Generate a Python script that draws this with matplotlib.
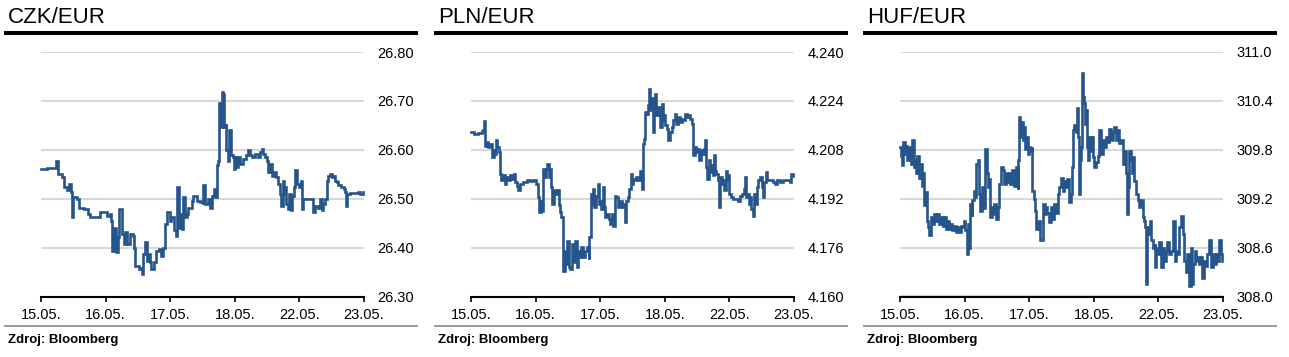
import matplotlib
matplotlib.use("Agg")
import matplotlib.pyplot as plt
from matplotlib.lines import Line2D

plt.rcParams['font.family'] = ['Liberation Sans', 'DejaVu Sans']

# ---------------- data (time in trading-day units from 15.05.) ----------------
X_LABELS = ["15.05.", "16.05.", "17.05.", "18.05.", "22.05.", "23.05."]
TITLES = ["CZK/EUR", "PLN/EUR", "HUF/EUR"]

CZK_T = [0.00, 0.10, 0.21, 0.23, 0.27, 0.32, 0.35, 0.40, 0.44, 0.46,
         0.48, 0.50, 0.55, 0.59, 0.66, 0.73, 0.76, 0.86, 0.91, 1.02,
         1.07, 1.09, 1.10, 1.13, 1.16, 1.19, 1.21, 1.23, 1.25, 1.28,
         1.30, 1.33, 1.38, 1.43, 1.44, 1.46, 1.51, 1.53, 1.56, 1.58,
         1.61, 1.64, 1.66, 1.69, 1.71, 1.75, 1.78, 1.82, 1.85, 1.89,
         1.92, 1.95, 1.99, 2.02, 2.06, 2.09, 2.11, 2.13, 2.16, 2.18,
         2.20, 2.23, 2.26, 2.28, 2.33, 2.36, 2.41, 2.46, 2.50, 2.51,
         2.54, 2.59, 2.62, 2.64, 2.68, 2.69, 2.72, 2.745, 2.755, 2.78,
         2.80, 2.82, 2.84, 2.86, 2.87, 2.90, 2.915, 2.94, 2.97, 2.99,
         3.00, 3.03, 3.055, 3.08, 3.13, 3.18, 3.21, 3.235, 3.26, 3.31,
         3.36, 3.39, 3.42, 3.44, 3.47, 3.50, 3.52, 3.545, 3.57, 3.60,
         3.64, 3.67, 3.70, 3.715, 3.74, 3.76, 3.78, 3.80, 3.83, 3.845,
         3.865, 3.885, 3.91, 3.93, 3.96, 4.00, 4.02, 4.04, 4.06, 4.11,
         4.19, 4.215, 4.24, 4.29, 4.32, 4.345, 4.37, 4.40, 4.42, 4.45,
         4.47, 4.50, 4.525, 4.55, 4.58, 4.60, 4.65, 4.69, 4.705, 4.716,
         4.73, 4.78, 4.86, 4.91, 4.94, 4.99]
CZK_V = [26.561, 26.563, 26.562, 26.577, 26.551, 26.544, 26.524, 26.517, 26.530, 26.513,
         26.462, 26.503, 26.500, 26.482, 26.479, 26.469, 26.462, 26.463, 26.472, 26.465,
         26.469, 26.455, 26.394, 26.441, 26.390, 26.421, 26.479, 26.479, 26.428, 26.407,
         26.431, 26.407, 26.428, 26.424, 26.400, 26.363, 26.356, 26.359, 26.347, 26.387,
         26.411, 26.373, 26.387, 26.370, 26.356, 26.370, 26.394, 26.397, 26.383, 26.400,
         26.448, 26.472, 26.455, 26.462, 26.435, 26.424, 26.524, 26.441, 26.469, 26.438,
         26.503, 26.462, 26.469, 26.482, 26.496, 26.506, 26.496, 26.493, 26.489, 26.527,
         26.489, 26.500, 26.482, 26.506, 26.520, 26.503, 26.568, 26.578, 26.695, 26.647,
         26.718, 26.715, 26.647, 26.653, 26.599, 26.578, 26.640, 26.589, 26.585, 26.561,
         26.585, 26.565, 26.585, 26.571, 26.582, 26.589, 26.599, 26.589, 26.585, 26.592,
         26.585, 26.595, 26.602, 26.592, 26.585, 26.578, 26.554, 26.571, 26.547, 26.554,
         26.544, 26.530, 26.510, 26.486, 26.537, 26.510, 26.524, 26.489, 26.479, 26.510,
         26.476, 26.506, 26.524, 26.558, 26.530, 26.524, 26.537, 26.479, 26.500, 26.500,
         26.500, 26.472, 26.486, 26.482, 26.500, 26.476, 26.489, 26.500, 26.537, 26.547,
         26.551, 26.544, 26.547, 26.537, 26.534, 26.527, 26.524, 26.520, 26.513, 26.486,
         26.510, 26.511, 26.511, 26.513, 26.510, 26.513]

PLN_T = [0.00, 0.04, 0.11, 0.17, 0.19, 0.20, 0.22, 0.24, 0.27, 0.29,
         0.32, 0.35, 0.36, 0.38, 0.41, 0.43, 0.45, 0.46, 0.49, 0.52,
         0.54, 0.57, 0.60, 0.64, 0.67, 0.68, 0.71, 0.73, 0.76, 0.81,
         0.86, 0.91, 0.96, 1.01, 1.03, 1.05, 1.08, 1.10, 1.12, 1.15,
         1.16, 1.18, 1.20, 1.22, 1.24, 1.26, 1.29, 1.32, 1.34, 1.36,
         1.38, 1.40, 1.42, 1.43, 1.45, 1.47, 1.49, 1.51, 1.53, 1.56,
         1.58, 1.61, 1.64, 1.66, 1.69, 1.71, 1.74, 1.76, 1.79, 1.82,
         1.83, 1.85, 1.87, 1.89, 1.91, 1.94, 1.96, 1.98, 2.00, 2.02,
         2.04, 2.06, 2.08, 2.10, 2.13, 2.15, 2.18, 2.20, 2.23, 2.25,
         2.28, 2.31, 2.33, 2.36, 2.38, 2.40, 2.43, 2.45, 2.47, 2.49,
         2.51, 2.54, 2.56, 2.59, 2.62, 2.64, 2.66, 2.68, 2.70, 2.72,
         2.74, 2.76, 2.77, 2.79, 2.81, 2.83, 2.85, 2.87, 2.90, 2.93,
         2.95, 2.97, 2.99, 3.01, 3.03, 3.05, 3.08, 3.11, 3.13, 3.16,
         3.18, 3.21, 3.24, 3.26, 3.29, 3.31, 3.34, 3.36, 3.39, 3.42,
         3.44, 3.47, 3.49, 3.52, 3.53, 3.56, 3.58, 3.60, 3.62, 3.64,
         3.66, 3.68, 3.70, 3.72, 3.74, 3.76, 3.78, 3.80, 3.82, 3.84,
         3.85, 3.88, 3.90, 3.92, 3.94, 3.96, 3.98, 4.00, 4.02, 4.06,
         4.11, 4.14, 4.16, 4.19, 4.22, 4.24, 4.26, 4.28, 4.30, 4.32,
         4.34, 4.36, 4.38, 4.40, 4.42, 4.45, 4.47, 4.50, 4.52, 4.54,
         4.56, 4.58, 4.63, 4.68, 4.71, 4.73, 4.78, 4.83, 4.89, 4.94,
         4.96, 4.99]
PLN_V = [4.2138, 4.2133, 4.2135, 4.2142, 4.2146, 4.2174, 4.2094, 4.2105, 4.2089, 4.2100,
         4.2056, 4.2084, 4.2067, 4.2111, 4.2089, 4.2073, 4.2002, 4.1980, 4.1996, 4.1969,
         4.1991, 4.1980, 4.1996, 4.1985, 4.2002, 4.1974, 4.1963, 4.1947, 4.1969, 4.1974,
         4.1980, 4.1977, 4.1982, 4.1969, 4.1925, 4.1876, 4.1914, 4.1881, 4.2018, 4.1991,
         4.2018, 4.2034, 4.1991, 4.2018, 4.1958, 4.1903, 4.1947, 4.1936, 4.1947, 4.1898,
         4.1876, 4.1859, 4.1794, 4.1684, 4.1750, 4.1706, 4.1783, 4.1695, 4.1690, 4.1772,
         4.1712, 4.1783, 4.1695, 4.1750, 4.1728, 4.1761, 4.1728, 4.1750, 4.1761, 4.1723,
         4.1794, 4.1936, 4.1903, 4.1952, 4.1892, 4.1930, 4.1969, 4.1903, 4.1914, 4.1887,
         4.1958, 4.1892, 4.1859, 4.1870, 4.1854, 4.1837, 4.1870, 4.1832, 4.1930, 4.1925,
         4.1892, 4.1914, 4.1892, 4.1903, 4.1843, 4.1914, 4.1925, 4.1952, 4.2002, 4.1969,
         4.1985, 4.1980, 4.1991, 4.1980, 4.2012, 4.1952, 4.2100, 4.2116, 4.2204, 4.2198,
         4.2226, 4.2280, 4.2209, 4.2248, 4.2138, 4.2242, 4.2264, 4.2193, 4.2220, 4.2155,
         4.2231, 4.2177, 4.2193, 4.2160, 4.2149, 4.2111, 4.2138, 4.2155, 4.2177, 4.2198,
         4.2166, 4.2187, 4.2171, 4.2182, 4.2177, 4.2198, 4.2187, 4.2193, 4.2182, 4.2166,
         4.2062, 4.2089, 4.2073, 4.2084, 4.2045, 4.2078, 4.2067, 4.2084, 4.2111, 4.2023,
         4.1985, 4.2045, 4.2007, 4.2029, 4.1996, 4.2062, 4.2012, 4.2002, 4.1980, 4.1892,
         4.1991, 4.1969, 4.1980, 4.1947, 4.2012, 4.1980, 4.1996, 4.1936, 4.1925, 4.1919,
         4.1919, 4.1914, 4.1930, 4.1936, 4.1952, 4.1991, 4.1925, 4.1936, 4.1903, 4.1925,
         4.1887, 4.1865, 4.1936, 4.1903, 4.1958, 4.1980, 4.1991, 4.1958, 4.1925, 4.1974,
         4.2007, 4.1980, 4.1980, 4.1974, 4.1969, 4.1980, 4.1974, 4.1980, 4.1980, 4.1974,
         4.2002, 4.1993]

HUF_T = [0.00, 0.01, 0.03, 0.05, 0.07, 0.09, 0.11, 0.14, 0.17, 0.19,
         0.21, 0.23, 0.25, 0.27, 0.29, 0.32, 0.34, 0.36, 0.37, 0.40,
         0.42, 0.44, 0.45, 0.48, 0.50, 0.53, 0.55, 0.58, 0.60, 0.63,
         0.66, 0.68, 0.71, 0.73, 0.76, 0.79, 0.81, 0.84, 0.86, 0.89,
         0.91, 0.94, 0.97, 0.99, 1.01, 1.03, 1.05, 1.07, 1.08, 1.11,
         1.12, 1.15, 1.16, 1.18, 1.20, 1.22, 1.24, 1.27, 1.29, 1.31,
         1.32, 1.34, 1.36, 1.38, 1.40, 1.42, 1.44, 1.46, 1.48, 1.51,
         1.53, 1.56, 1.59, 1.61, 1.64, 1.66, 1.69, 1.71, 1.74, 1.77,
         1.79, 1.82, 1.83, 1.84, 1.86, 1.88, 1.90, 1.92, 1.94, 1.96,
         1.98, 2.00, 2.02, 2.04, 2.05, 2.07, 2.09, 2.11, 2.13, 2.15,
         2.17, 2.19, 2.21, 2.22, 2.24, 2.26, 2.28, 2.31, 2.33, 2.36,
         2.39, 2.41, 2.44, 2.46, 2.49, 2.52, 2.54, 2.57, 2.59, 2.62,
         2.64, 2.66, 2.68, 2.70, 2.72, 2.74, 2.76, 2.77, 2.79, 2.80,
         2.82, 2.83, 2.85, 2.86, 2.88, 2.89, 2.91, 2.93, 2.95, 2.97,
         2.99, 3.01, 3.03, 3.06, 3.08, 3.11, 3.14, 3.16, 3.19, 3.21,
         3.24, 3.26, 3.29, 3.32, 3.34, 3.37, 3.39, 3.42, 3.45, 3.47,
         3.50, 3.51, 3.53, 3.55, 3.57, 3.59, 3.61, 3.63, 3.65, 3.68,
         3.70, 3.73, 3.76, 3.78, 3.80, 3.81, 3.83, 3.85, 3.87, 3.89,
         3.91, 3.94, 3.95, 3.97, 3.99, 4.01, 4.04, 4.07, 4.09, 4.12,
         4.14, 4.17, 4.19, 4.22, 4.25, 4.27, 4.30, 4.32, 4.35, 4.38,
         4.40, 4.43, 4.45, 4.48, 4.50, 4.52, 4.54, 4.56, 4.58, 4.61,
         4.63, 4.66, 4.68, 4.71, 4.74, 4.76, 4.79, 4.81, 4.84, 4.87,
         4.89, 4.92, 4.94, 4.97, 4.99]
HUF_V = [309.83, 309.73, 309.61, 309.90, 309.75, 309.85, 309.67, 309.83, 309.63, 309.92,
         309.59, 309.67, 309.51, 309.73, 309.46, 309.63, 309.36, 309.51, 309.12, 309.28,
         308.93, 308.85, 308.75, 308.97, 308.89, 309.01, 308.93, 309.01, 308.89, 308.97,
         308.87, 308.97, 308.83, 308.93, 308.83, 308.89, 308.81, 308.87, 308.79, 308.85,
         308.79, 308.87, 308.85, 308.93, 308.81, 308.52, 308.89, 308.60, 309.14, 308.99,
         309.18, 309.30, 309.22, 309.63, 309.67, 309.26, 309.05, 309.34, 309.08, 309.34,
         309.81, 309.51, 309.34, 309.44, 308.97, 309.10, 309.01, 309.14, 308.95, 309.10,
         309.38, 309.59, 309.55, 309.38, 309.51, 309.40, 309.51, 309.38, 309.55, 309.36,
         309.59, 309.32, 309.67, 310.20, 309.96, 310.14, 309.92, 310.08, 309.81, 309.96,
         309.75, 309.83, 309.79, 309.83, 309.30, 309.20, 309.05, 308.83, 308.93, 308.93,
         308.69, 308.69, 308.85, 309.14, 309.01, 309.10, 309.03, 308.91, 309.10, 308.95,
         309.14, 309.03, 309.26, 309.34, 309.46, 309.30, 309.42, 309.34, 309.44, 309.16,
         309.26, 309.59, 310.04, 310.10, 310.02, 310.31, 309.96, 309.26, 309.67, 309.83,
         310.74, 310.45, 310.37, 310.12, 310.29, 309.83, 309.67, 309.96, 309.79, 309.96,
         309.71, 309.59, 309.65, 309.73, 310.04, 309.75, 309.92, 309.83, 309.96, 309.90,
         310.06, 309.92, 310.02, 310.08, 309.92, 310.04, 309.88, 309.92, 309.63, 309.79,
         309.51, 309.01, 309.34, 309.79, 309.67, 309.51, 309.71, 309.42, 309.26, 309.18,
         309.10, 309.18, 308.97, 308.93, 308.85, 308.15, 308.85, 308.77, 308.93, 308.69,
         308.60, 308.64, 308.36, 308.60, 308.52, 308.67, 308.36, 308.60, 308.44, 308.56,
         308.67, 308.52, 308.56, 308.93, 308.44, 308.56, 308.52, 308.85, 308.99, 308.77,
         308.44, 308.30, 308.52, 308.13, 308.60, 308.15, 308.40, 308.56, 308.44, 308.48,
         308.40, 308.48, 308.23, 308.44, 308.38, 308.52, 308.69, 308.36, 308.52, 308.40,
         308.52, 308.44, 308.69, 308.52, 308.44]

CZK_TICKS = [26.30, 26.40, 26.50, 26.60, 26.70, 26.80]
PLN_TICKS = [4.160, 4.176, 4.192, 4.208, 4.224, 4.240]
HUF_TICKS = [308.0, 308.6, 309.2, 309.8, 310.4, 311.0]
TICK_FMT = ["{:.2f}", "{:.3f}", "{:.1f}"]

SERIES = [(CZK_T, CZK_V, CZK_TICKS), (PLN_T, PLN_V, PLN_TICKS), (HUF_T, HUF_V, HUF_TICKS)]

# ---------------- layout ----------------
W, H = 1289, 357
fig = plt.figure(figsize=(W / 100, H / 100), dpi=100)
fig.patch.set_facecolor("white")

LINE_COLOR = "#26548c"
OFFSETS = [0, 430, 859]

def fx(px):
    return px / W

def fy(py):
    return 1 - py / H

for (t, v, ticks), title, fmt, o in zip(SERIES, TITLES, TICK_FMT, OFFSETS):
    ax = fig.add_axes([fx(41 + o), fy(296.5), fx(323), (296.5 - 52) / H])
    ax.plot(t, v, color=LINE_COLOR, lw=1.9, drawstyle="steps-post",
            solid_joinstyle="miter", clip_on=False, zorder=3)
    ax.set_xlim(0, 5)
    ax.set_ylim(ticks[0], ticks[-1])
    ax.set_yticks(ticks)
    ax.set_yticklabels([fmt.format(x) for x in ticks])
    ax.set_xticks(range(len(X_LABELS)))
    ax.set_xticklabels(X_LABELS)
    ax.yaxis.tick_right()
    ax.tick_params(axis="y", length=0, pad=9.5, labelsize=10.5, colors="black")
    ax.tick_params(axis="x", length=3.5, width=1.2, direction="out", pad=5,
                   labelsize=10.5, colors="black")
    for s in ("top", "left", "right"):
        ax.spines[s].set_visible(False)
    ax.spines["bottom"].set_linewidth(1.5)
    ax.spines["bottom"].set_color("black")
    ax.spines["bottom"].set_zorder(4)
    ax.grid(axis="y", color="#d9d9d9", lw=1.5)
    ax.set_axisbelow(True)
    ax.set_facecolor("none")

    # title, rules and source note
    fig.text(fx(8 + o), fy(22.7), title, fontsize=16, va="baseline", ha="left", color="black")
    fig.add_artist(Line2D([fx(4 + o), fx(418 + o)], [fy(33), fy(33)],
                          color="black", lw=2.9, solid_capstyle="butt"))
    fig.add_artist(Line2D([fx(4 + o), fx(418 + o)], [fy(325.8), fy(325.8)],
                          color="#9a9a9a", lw=1.4, solid_capstyle="butt"))
    fig.text(fx(8 + o), fy(342.7), "Zdroj: Bloomberg", fontsize=9.5, fontweight="bold",
             va="baseline", ha="left", color="black")

fig.savefig("out.png", dpi=100, facecolor="white")
